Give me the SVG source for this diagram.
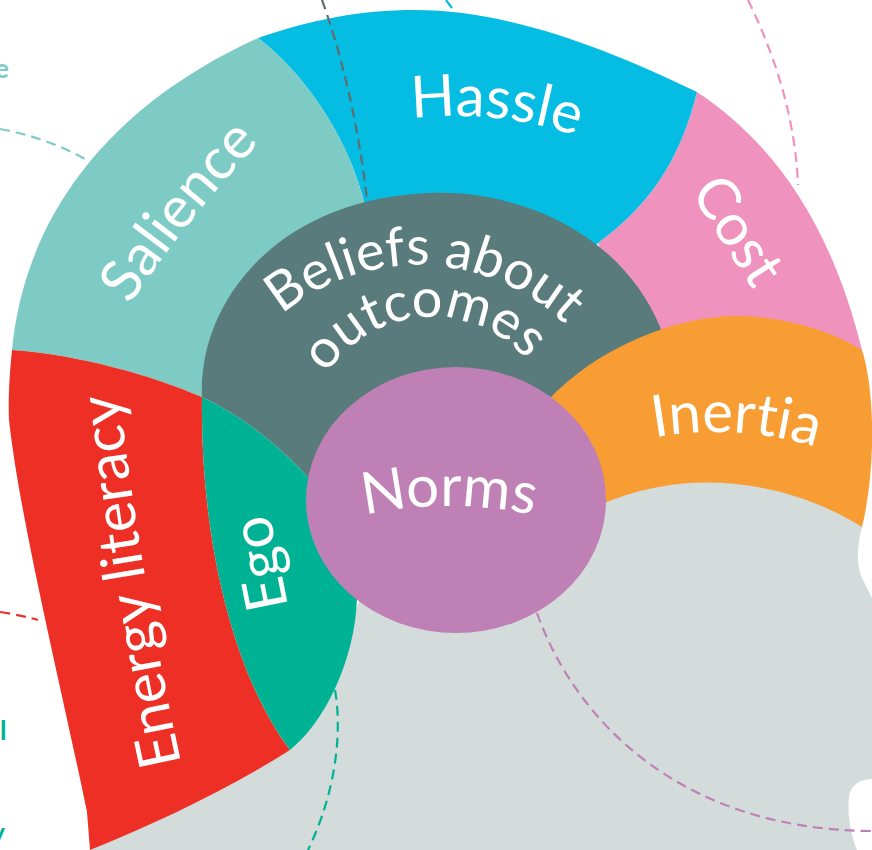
<svg xmlns="http://www.w3.org/2000/svg" width="872" height="850" viewBox="0 0 872 850">
  <style>
    .lbl { fill: #ffffff; font-family: Lato, "Open Sans", "DejaVu Sans", sans-serif; font-size: 58px; text-anchor: middle; font-variant-ligatures: none; }
    .lbl.sm { font-size: 54px; }
    .dash { fill: none; stroke-width: 2.2; stroke-dasharray: 10 6; }
    .edge { font-family: Lato, "Open Sans", sans-serif; font-size: 26px; font-weight: bold; }
  </style>
  <defs>
    <!-- text baselines -->
    <path id="p-hassle" d="M 298.8,149.2 A 384,384 0 0,1 680.7,189.3"/>
    <path id="p-salience" d="M 127,309 Q 187,218 263,139"/>
    <path id="p-cost" d="M 690,192 L 753,290"/>
    <path id="p-inertia" d="M 615,446.6 A 350,350 0 0,1 854,460.8"/>
    <path id="p-energy" d="M 183,772 Q 140,575 118,385"/>
    <path id="p-ego" d="M 290,615 L 268,505"/>
    <path id="p-beliefs1" d="M 234.4,371 A 212,212 0 0,1 608.5,384.1"/>
    <path id="p-beliefs2" d="M 313.6,399.9 A 126,126 0 0,1 543.3,383.8"/>
    <path id="p-norms" d="M 347,519.4 A 394,394 0 0,1 551,519.4"/>
  </defs>

  <rect width="872" height="850" fill="#ffffff"/>

  <!-- head silhouette -->
  <g id="head">
    <path fill="#D3DCDB" d="M 92,850 L 88,815 L 290,750 L 360,600 L 600,505 L 620,440 L 860,440 L 862,527 C 857,545 856,565 862,578 C 866,586 869,592 872,598 L 872,779 C 860,779 850,785 849,798 C 847,815 851,835 857,850 Z"/>
  </g>

  <!-- outer ring -->
  <g id="cost">
    <path fill="#EF93BE" d="M 697,92 C 770,140 830,220 862,350 L 760,380 L 640,360 L 598,243 C 650,205 680,160 697,92 Z"/>
    <text class="lbl"><textPath href="#p-cost" startOffset="50%">Cost</textPath></text>
  </g>

  <g id="hassle">
    <path fill="#05BCE3" d="M 258,38 C 310,20 360,10 415,10 C 510,10 610,50 697,92 C 680,160 650,205 598,243 L 560,300 L 380,300 L 363,198 C 345,130 300,70 258,38 Z"/>
    <text class="lbl"><textPath href="#p-hassle" startOffset="50%">Hassle</textPath></text>
  </g>

  <g id="salience">
    <path fill="#7ECBC6" d="M 12,350 C 25,215 110,105 258,38 C 300,70 345,130 363,198 L 380,260 L 250,400 L 202,397 C 150,375 80,355 12,350 Z"/>
    <text class="lbl"><textPath href="#p-salience" startOffset="50%">Salience</textPath></text>
  </g>

  <g id="energy-literacy">
    <path fill="#EE2F25" d="M 12,350 C 80,355 150,375 202,397 C 200,530 230,670 290,750 C 235,785 165,820 90,850 L 87,812 C 62,690 20,520 9,420 C 8,395 10,370 12,350 Z"/>
    <text class="lbl"><textPath href="#p-energy" startOffset="50%">Energy literacy</textPath></text>
  </g>

  <!-- inner ring -->
  <g id="beliefs">
    <path fill="#5A7B7B" d="M 202,397 C 198,300 280,198 430,193 C 530,190 625,240 661,329 L 600,420 L 420,470 L 312,482 C 280,445 240,415 202,397 Z"/>
    <text class="lbl sm"><textPath href="#p-beliefs1" startOffset="50%">Beliefs about</textPath></text>
    <text class="lbl sm"><textPath href="#p-beliefs2" startOffset="50%">outcomes</textPath></text>
  </g>

  <g id="inertia">
    <path fill="#F79D33" d="M 548,400 C 600,345 680,315 740,316 C 790,317 835,333 862,350 C 875,390 876,470 862,527 C 790,482 690,465 600,505 L 560,460 Z"/>
    <text class="lbl"><textPath href="#p-inertia" startOffset="50%">Inertia</textPath></text>
  </g>

  <g id="ego">
    <path fill="#00B294" d="M 202,397 C 240,415 280,445 312,482 L 380,560 L 357,598 C 355,660 325,722 290,750 C 230,670 200,530 202,397 Z"/>
    <text class="lbl"><textPath href="#p-ego" startOffset="50%">Ego</textPath></text>
  </g>

  <!-- core -->
  <g id="norms">
    <ellipse cx="456" cy="500" rx="150" ry="133" fill="#BF80B5"/>
    <text class="lbl"><textPath href="#p-norms" startOffset="50%">Norms</textPath></text>
  </g>

  <!-- dashed leaders -->
  <g id="connectors">
    <path class="dash" stroke="#7ECBC6" d="M 0,129 Q 45,137 85,159"/>
    <path class="dash" stroke="#5E6E70" d="M 322,0 C 340,50 358,120 367,200"/>
    <path class="dash" stroke="#05BCE3" d="M 446,0 L 455,12"/>
    <path class="dash" stroke="#EF93BE" d="M 748,0 C 770,45 795,110 798,185"/>
    <path class="dash" stroke="#EE2F25" d="M 0,612 Q 20,615 38,620"/>
    <path class="dash" stroke="#00B294" d="M 335,690 C 342,730 337,790 308,850"/>
    <path class="dash" stroke="#BF80B5" d="M 537,613 C 575,720 680,830 872,831"/>
  </g>

  <!-- labels running in from the left edge -->
  <g id="edge-labels">
    <text class="edge" fill="#7ECBC6" x="9" y="78" text-anchor="end">e</text>
    <text class="edge" fill="#00B294" x="0" y="740">l</text>
    <text class="edge" fill="#00B294" x="5" y="842" text-anchor="end">y</text>
  </g>
</svg>
